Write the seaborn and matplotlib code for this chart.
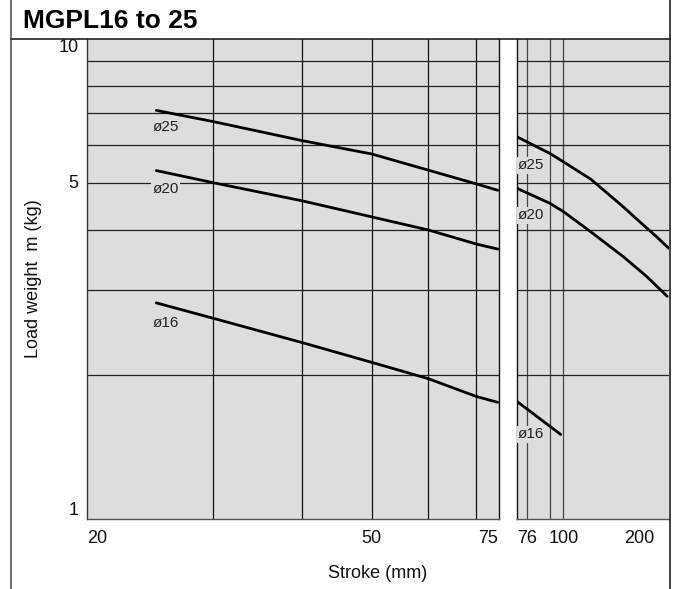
import matplotlib
matplotlib.use("Agg")
import matplotlib.pyplot as plt
from matplotlib.lines import Line2D
from matplotlib.ticker import NullFormatter, FixedLocator
import numpy as np
import pandas as pd
import seaborn as sns

# ---------------- data ----------------
left_stroke = [25, 30, 40, 50, 60, 70, 75]
left_d25 = [7.10, 6.73, 6.14, 5.76, 5.33, 4.99, 4.84]
left_d20 = [5.32, 5.02, 4.60, 4.26, 4.00, 3.74, 3.65]
left_d16 = [2.82, 2.62, 2.33, 2.12, 1.96, 1.80, 1.75]

right_stroke_25 = [70, 90, 100, 108, 123, 140, 158, 180, 204, 224]
right_d25 = [6.26, 5.78, 5.55, 5.38, 5.11, 4.77, 4.47, 4.15, 3.87, 3.66]
right_stroke_20 = [70, 90, 100, 123, 158, 189, 221]
right_d20 = [4.89, 4.55, 4.37, 3.97, 3.52, 3.20, 2.91]
right_stroke_16 = [70, 98]
right_d16 = [1.76, 1.50]

series_names = ["ø25", "ø20", "ø16"]
left_label_pos = [(24.7, 6.57), (24.7, 4.87), (24.7, 2.56)]
right_label_pos = [(70.8, 5.46), (70.8, 4.29), (70.8, 1.50)]

left_xticks = [20, 50, 75]
left_xgrid = [30, 40, 50, 60, 70]
right_xticks = [76, 100, 200]
right_xgrid = [76, 90, 100]
yticks = [1, 5, 10]
ygrid = [2, 3, 4, 5, 6, 7, 8, 9]

title = "MGPL16 to 25"
xlabel = "Stroke (mm)"
ylabel = "Load weight  m (kg)"

# ---------------- style ----------------
sns.set_theme(style="white")
plt.rcParams["font.family"] = ["Liberation Sans", "DejaVu Sans"]

W, H = 675, 589
fig = plt.figure(figsize=(W / 100, H / 100), dpi=100)
fig.patch.set_facecolor("white")

ax1 = fig.add_axes([87 / W, 1 - 519 / H, (499 - 87) / W, 480 / H])
ax2 = fig.add_axes([517 / W, 1 - 519 / H, (669 - 517) / W, 480 / H])

left_df = pd.DataFrame({
    "stroke": left_stroke * 3,
    "load": left_d25 + left_d20 + left_d16,
    "bore": ["ø25"] * len(left_stroke) + ["ø20"] * len(left_stroke) + ["ø16"] * len(left_stroke),
})
right_df = pd.DataFrame({
    "stroke": right_stroke_25 + right_stroke_20 + right_stroke_16,
    "load": right_d25 + right_d20 + right_d16,
    "bore": ["ø25"] * len(right_stroke_25) + ["ø20"] * len(right_stroke_20) + ["ø16"] * len(right_stroke_16),
})

pal = {n: "black" for n in series_names}
face = "#dddddd"

for ax, df, xlim in [(ax1, left_df, (20, 75.3)), (ax2, right_df, (70.2, 224))]:
    ax.set_facecolor(face)
    ax.set_xscale("log")
    ax.set_yscale("log")
    sns.lineplot(data=df, x="stroke", y="load", hue="bore", units="bore",
                 estimator=None, palette=pal, legend=False, linewidth=2.0,
                 ax=ax, zorder=3, sort=False)
    ax.set_xlim(*xlim)
    ax.set_ylim(1, 10)
    ax.set_xlabel("")
    ax.set_ylabel("")
    ax.xaxis.remove_overlapping_locs = False
    ax.yaxis.remove_overlapping_locs = False
    ax.yaxis.set_major_locator(FixedLocator(yticks))
    ax.yaxis.set_minor_locator(FixedLocator(ygrid))
    ax.yaxis.set_minor_formatter(NullFormatter())
    ax.grid(False)
    ax.yaxis.grid(True, which="minor", color="#222222", linewidth=0.9, zorder=1)
    ax.tick_params(which="both", length=0)
    for s in ax.spines.values():
        s.set_linewidth(1.0)
    ax.spines["left"].set_color("#333333")
    ax.spines["bottom"].set_color("#555555")
    ax.spines["right"].set_color("#111111")
    ax.spines["top"].set_visible(False)

# left panel axes
ax1.xaxis.set_major_locator(FixedLocator(left_xticks))
ax1.xaxis.set_minor_locator(FixedLocator(left_xgrid))
ax1.xaxis.set_minor_formatter(NullFormatter())
ax1.set_xticklabels([str(t) for t in left_xticks])
ax1.xaxis.grid(True, which="minor", color="#111111", linewidth=0.9, zorder=1)
ax1.set_yticklabels([str(t) for t in yticks])
ax1.tick_params(axis="y", labelsize=13, pad=6, colors="#111111")
ax1.tick_params(axis="x", labelsize=13, pad=8, colors="#111111")
for lab, ha in zip(ax1.get_xticklabels(), ["left", "center", "right"]):
    lab.set_ha(ha)
for lab, va in zip(ax1.get_yticklabels(), ["bottom", "center", "top"]):
    lab.set_va(va)

# right panel axes
ax2.xaxis.set_major_locator(FixedLocator(right_xticks))
ax2.xaxis.set_minor_locator(FixedLocator(right_xgrid))
ax2.xaxis.set_minor_formatter(NullFormatter())
ax2.set_xticklabels([str(t) for t in right_xticks])
ax2.xaxis.grid(True, which="minor", color="#444444", linewidth=0.9, zorder=1)
ax2.set_yticklabels([])
ax2.tick_params(axis="x", labelsize=13, pad=8, colors="#111111")
for lab, ha in zip(ax2.get_xticklabels(), ["center", "center", "right"]):
    lab.set_ha(ha)
ax2.spines["right"].set_visible(False)
ax2.spines["left"].set_color("#111111")

# series labels
bbox = dict(facecolor=face, edgecolor="none", pad=1.0)
for name, (x, y) in zip(series_names, left_label_pos):
    ax1.text(x, y, name, fontsize=11, ha="left", va="center", color="#222222",
             bbox=bbox, zorder=4)
for name, (x, y) in zip(series_names, right_label_pos):
    ax2.text(x, y, name, fontsize=11, ha="left", va="center", color="#222222",
             bbox=bbox, zorder=4)

# axis titles
fig.text(378 / W, 1 - 574 / H, xlabel, fontsize=13, ha="center", va="center",
         color="#111111")
fig.text(34 / W, 1 - 279 / H, ylabel, fontsize=13, ha="center", va="center",
         rotation=90, color="#111111")

# title and frame
fig.text(23 / W, 1 - 21 / H, title, fontsize=19, fontweight="bold",
         ha="left", va="center", color="black")
fig.add_artist(Line2D([11 / W, 11 / W], [0, 1], transform=fig.transFigure,
                      color="#555555", linewidth=1.2))
fig.add_artist(Line2D([669.5 / W, 669.5 / W], [0, 1], transform=fig.transFigure,
                      color="#222222", linewidth=1.2))
fig.add_artist(Line2D([11 / W, 669.5 / W], [1 - 39 / H, 1 - 39 / H],
                      transform=fig.transFigure, color="#222222", linewidth=1.2))

fig.savefig("out.png", dpi=100, facecolor="white")
